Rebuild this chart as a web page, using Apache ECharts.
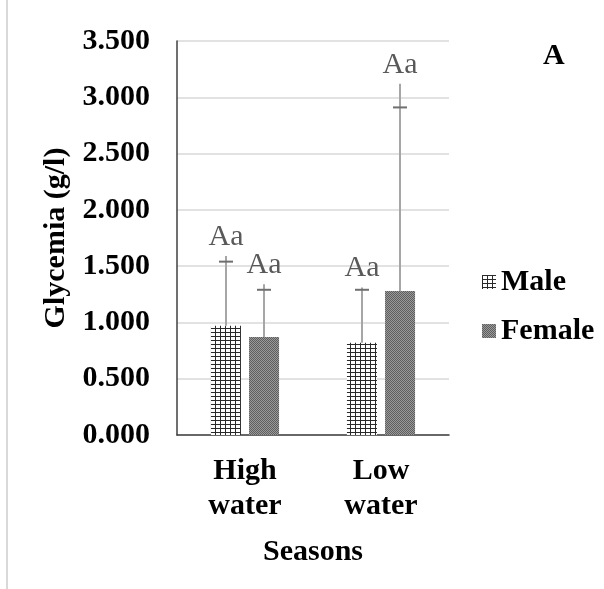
<!DOCTYPE html>
<html>
<head>
<meta charset="utf-8">
<script src="https://cdn.jsdelivr.net/npm/echarts@6/dist/echarts.min.js"></script>
<style>
  html, body { margin: 0; padding: 0; background: #fff; }
  #chart { width: 604px; height: 589px; }
</style>
</head>
<body>
<div id="chart"></div>
<script>
// Glycemia by season and sex
const categories = ['High\nwater', 'Low\nwater'];
const seriesNames = ['Male', 'Female'];
const maleMean = [0.97, 0.82];
const femaleMean = [0.87, 1.28];
// upper end of each error whisker
const maleWhisker = [1.59, 1.31];
const femaleWhisker = [1.34, 3.12];
// position of each whisker's cross mark
const maleCap = [1.54, 1.29];
const femaleCap = [1.29, 2.91];
// significance letters
const maleLetters = ['Aa', 'Aa'];
const femaleLetters = ['Aa', 'Aa'];
const yTicks = { min: 0, max: 3.5, step: 0.5 };

const FONT = '"Liberation Serif", "Times New Roman", serif';

function makePattern(w, h, draw) {
  const c = document.createElement('canvas');
  c.width = w; c.height = h;
  const ctx = c.getContext('2d');
  draw(ctx);
  return { image: c, repeat: 'repeat' };
}

// fine square grid fill
const gridFill = makePattern(5, 4, ctx => {
  ctx.fillStyle = '#ffffff';
  ctx.fillRect(0, 0, 5, 4);
  ctx.fillStyle = '#2a2a2a';
  ctx.fillRect(0, 0, 5, 1);
  ctx.fillRect(0, 0, 1, 4);
});
// dense stipple fill
const stippleFill = makePattern(2, 2, ctx => {
  ctx.fillStyle = '#9a9a9a';
  ctx.fillRect(0, 0, 2, 2);
  ctx.fillStyle = '#5e5e5e';
  ctx.fillRect(0, 0, 1, 1);
  ctx.fillRect(1, 1, 1, 1);
});

const BAR_W = 30;
const BAR_OFFSET = 19;

function errorSeries(name, means, whiskers, caps, letters, side) {
  const data = means.map((m, i) => [i, m, whiskers[i], caps[i], letters[i]]);
  return {
    type: 'custom',
    name: name + ' error',
    z: 5,
    silent: true,
    data: data,
    encode: { x: 0, y: [1, 2] },
    renderItem: function (params, api) {
      const i = api.value(0);
      const base = api.coord([i, api.value(1)]);
      const top = api.coord([i, api.value(2)]);
      const cap = api.coord([i, api.value(3)]);
      const x = base[0] + side * BAR_OFFSET;
      return {
        type: 'group',
        children: [
          { type: 'line', shape: { x1: x, y1: base[1], x2: x, y2: top[1] },
            style: { stroke: '#a6a6a6', lineWidth: 2 } },
          { type: 'line', shape: { x1: x - 7, y1: cap[1], x2: x + 7, y2: cap[1] },
            style: { stroke: '#6f6f6f', lineWidth: 2 } },
          { type: 'text', x: x, y: top[1] - 4,
            style: { text: letters[i], font: '30px ' + FONT, fill: '#595959',
                     align: 'center', verticalAlign: 'bottom' } }
        ]
      };
    }
  };
}

const chart = echarts.init(document.getElementById('chart'), null, { renderer: 'canvas' });
chart.setOption({
  animation: false,
  backgroundColor: '#ffffff',
  grid: { left: 177, right: 155, top: 41, bottom: 154, containLabel: false },
  legend: {
    orient: 'vertical',
    left: 477,
    top: 262,
    itemWidth: 14,
    itemHeight: 14,
    itemGap: 19,
    icon: 'rect',
    data: seriesNames,
    textStyle: { fontFamily: FONT, fontSize: 30, fontWeight: 'bold', color: '#000', lineHeight: 30, padding: [0, 0, 0, 0] }
  },
  xAxis: {
    type: 'category',
    data: categories,
    name: 'Seasons',
    nameLocation: 'middle',
    nameGap: 102,
    nameTextStyle: { fontFamily: FONT, fontSize: 30, fontWeight: 'bold', color: '#000' },
    axisLine: { lineStyle: { color: '#404040', width: 1.5 } },
    axisTick: { show: false },
    axisLabel: { fontFamily: FONT, fontSize: 30, fontWeight: 'bold', color: '#000', lineHeight: 35, margin: 19 }
  },
  yAxis: {
    type: 'value',
    min: yTicks.min,
    max: yTicks.max,
    interval: yTicks.step,
    name: 'Glycemia (g/l)',
    nameLocation: 'middle',
    nameRotate: 90,
    nameGap: 106,
    nameTextStyle: { fontFamily: FONT, fontSize: 30, fontWeight: 'bold', color: '#000' },
    axisLine: { show: true, lineStyle: { color: '#404040', width: 1.5 } },
    axisTick: { show: false },
    splitLine: { lineStyle: { color: '#d9d9d9', width: 1.5 } },
    axisLabel: {
      fontFamily: FONT, fontSize: 30, fontWeight: 'bold', color: '#000', margin: 27,
      formatter: v => v.toFixed(3)
    }
  },
  series: [
    { type: 'bar', name: 'Male', data: maleMean, barWidth: BAR_W, barGap: '27%',
      itemStyle: { color: gridFill } },
    { type: 'bar', name: 'Female', data: femaleMean, barWidth: BAR_W, barGap: '27%',
      itemStyle: { color: stippleFill } },
    errorSeries('Male', maleMean, maleWhisker, maleCap, maleLetters, -1),
    errorSeries('Female', femaleMean, femaleWhisker, femaleCap, femaleLetters, 1)
  ],
  graphic: [
    { type: 'line', shape: { x1: 7, y1: 0, x2: 7, y2: 589 },
      style: { stroke: '#d9d9d9', lineWidth: 2 }, silent: true },
    { type: 'text', left: 543, top: 41,
      style: { text: 'A', font: 'bold 30px ' + FONT, fill: '#000' } }
  ]
});
</script>
</body>
</html>
